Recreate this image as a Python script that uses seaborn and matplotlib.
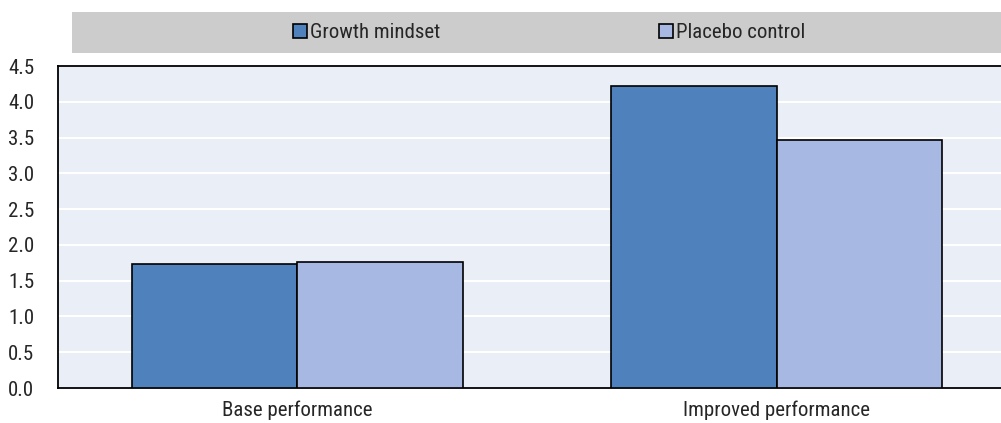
import matplotlib
matplotlib.use("Agg")
import matplotlib.pyplot as plt
import matplotlib.patches as mpatches
import seaborn as sns
import pandas as pd

categories = ["Base performance", "Improved performance"]
groups = ["Growth mindset", "Placebo control"]
growth_values = [1.73, 4.22]
placebo_values = [1.755, 3.47]
colors = ["#4F81BD", "#A7B9E3"]
yticks = [0.0, 0.5, 1.0, 1.5, 2.0, 2.5, 3.0, 3.5, 4.0, 4.5]

df = pd.DataFrame({
    "category": categories * 2,
    "group": [groups[0]] * 2 + [groups[1]] * 2,
    "value": growth_values + placebo_values,
})

sns.set_theme(style="white")
plt.rcParams["font.family"] = ["Roboto Condensed", "Liberation Sans", "DejaVu Sans"]

FS = 15

fig = plt.figure(figsize=(10.01, 4.23), dpi=100)
ax = fig.add_axes([58 / 1001, 35 / 423, 943 / 1001, 322 / 423])
ax.set_facecolor("#EAEEF6")

sns.barplot(data=df, x="category", y="value", hue="group", order=categories,
            hue_order=groups, palette=colors, width=0.69, edgecolor="black",
            linewidth=1.2, saturation=1, ax=ax, legend=False, zorder=3)

ax.set_ylim(0, 4.5)
ax.set_yticks(yticks)
ax.set_yticklabels([f"{t:.1f}" for t in yticks])
ax.set_xlim(-0.499, 1.468)
ax.grid(axis="y", color="white", linewidth=1.5, zorder=0)
ax.set_axisbelow(True)
ax.set_xlabel("")
ax.set_ylabel("")
ax.tick_params(axis="both", labelsize=FS, length=0)
ax.tick_params(axis="y", pad=17)
ax.tick_params(axis="x", pad=9)
for side in ["left", "top", "bottom"]:
    ax.spines[side].set_visible(True)
    ax.spines[side].set_color("black")
    ax.spines[side].set_linewidth(1.3)
ax.spines["right"].set_visible(False)

# grey legend band above the plot area
band = mpatches.Rectangle((72 / 1001, (423 - 53) / 423), 929 / 1001, 41 / 423,
                          transform=fig.transFigure, facecolor="#CCCCCC",
                          edgecolor="none", zorder=0)
fig.patches.append(band)

handles = [mpatches.Patch(facecolor=c, edgecolor="black", linewidth=1.2) for c in colors]
fig.legend(handles, groups, loc="center", bbox_to_anchor=(549 / 1001, (423 - 32.5) / 423),
           ncol=2, frameon=False, fontsize=FS, handlelength=0.67, handleheight=0.67,
           handletextpad=0.15, columnspacing=10.5, borderpad=0)

fig.savefig("out.png", dpi=100)
